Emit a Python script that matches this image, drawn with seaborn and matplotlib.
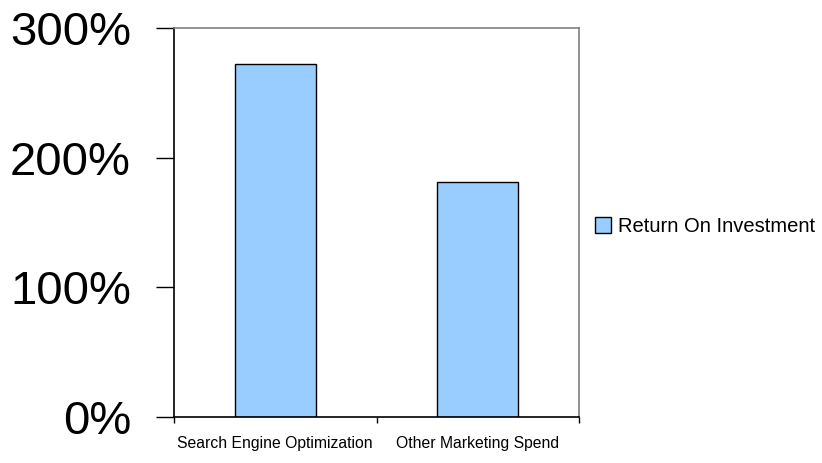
import pandas as pd
import matplotlib
matplotlib.use("Agg")
import matplotlib.pyplot as plt
import seaborn as sns
from matplotlib.ticker import FixedLocator, PercentFormatter

# chart data
categories = ["Search Engine Optimization", "Other Marketing Spend"]
roi_pct = [272, 181]
series_name = "Return On Investment"
y_ticks = [0, 100, 200, 300]

sns.set_theme(style="white")
plt.rcParams['font.family'] = ['Liberation Sans', 'DejaVu Sans']
plt.rcParams['text.color'] = 'black'

df = pd.DataFrame({"category": categories, "roi": roi_pct, "series": series_name})

fig = plt.figure(figsize=(8.22, 4.63), dpi=100)
ax = fig.add_axes([174 / 822, 1 - 417 / 463, (579 - 174) / 822, (417 - 28) / 463])

sns.barplot(data=df, x="category", y="roi", hue="series", palette=["#99CCFF"],
            width=0.4, edgecolor="black", linewidth=1, saturation=1, ax=ax)

ax.set_xlim(-0.5, 1.5)
ax.set_ylim(0, 300)
ax.set_xlabel("")
ax.set_ylabel("")

# y axis: big percent labels, long outward ticks
ax.set_yticks(y_ticks)
ax.yaxis.set_major_formatter(PercentFormatter(decimals=0))
ax.tick_params(axis="y", which="major", length=13, width=1, color="black",
               direction="out", pad=18, labelsize=34, labelcolor="black", left=True)

# x axis: ticks at category boundaries, labels centred on bars
ax.xaxis.set_major_locator(FixedLocator([-0.5, 0.5, 1.5]))
ax.xaxis.set_minor_locator(FixedLocator([0, 1]))
ax.set_xticklabels(["", "", ""])
ax.set_xticklabels(categories, minor=True)
ax.tick_params(axis="x", which="major", length=4, width=1, color="black",
               direction="out", bottom=True)
ax.tick_params(axis="x", which="minor", length=0, pad=14, labelsize=11.3,
               labelcolor="black")

for side in ["left", "bottom"]:
    ax.spines[side].set_color("black")
    ax.spines[side].set_linewidth(1.2)
for side in ["top", "right"]:
    ax.spines[side].set_visible(True)
    ax.spines[side].set_color("#808080")
    ax.spines[side].set_linewidth(1.2)

leg = ax.legend(loc="center left", bbox_to_anchor=(1.02, 0.49), frameon=False,
                fontsize=14.5, handlelength=0.8, handleheight=0.8,
                handletextpad=0.35, borderaxespad=0, labelcolor="black")

fig.savefig("out.png", dpi=100)
